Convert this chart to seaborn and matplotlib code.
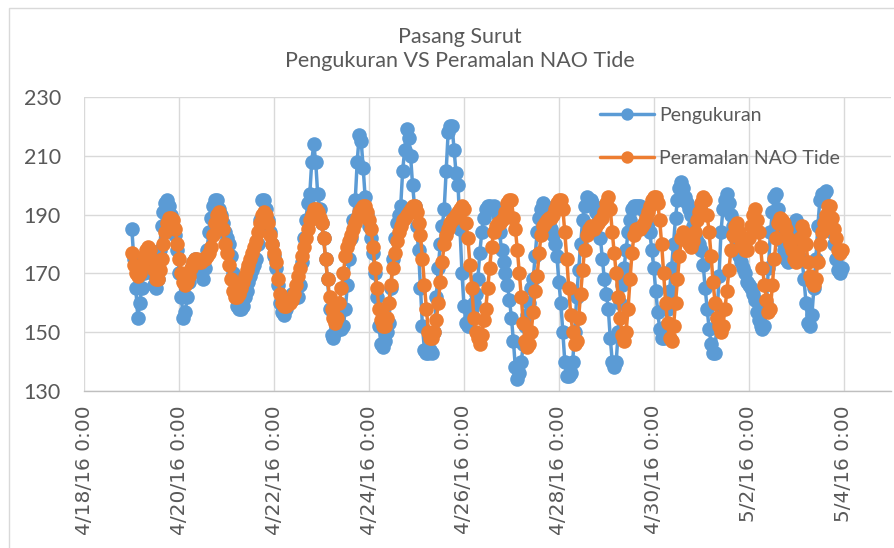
import matplotlib
matplotlib.use('Agg')
import matplotlib.pyplot as plt
from matplotlib.patches import Rectangle
import seaborn as sns
import pandas as pd

# Hourly water level, 4/19/16 0:00 .. 5/3/16 23:00 (one row = one day)
pengukuran = [
    185, 175, 165, 155, 160, 165, 170, 174, 176, 174, 170, 166, 165, 168, 178, 186, 191, 194, 195, 193, 190, 186, 183, 178,
    170, 162, 155, 157, 162, 167, 171, 174, 175, 174, 172, 170, 168, 172, 178, 184, 189, 193, 195, 195, 192, 190, 187, 184,
    182, 180, 176, 170, 163, 159, 158, 158, 159, 162, 164, 167, 169, 171, 173, 175, 180, 188, 195, 195, 192, 188, 184, 180,
    176, 172, 166, 160, 157, 156, 158, 160, 162, 163, 163, 162, 162, 166, 174, 182, 188, 194, 197, 208, 214, 208, 197, 192,
    187, 182, 175, 168, 158, 149, 148, 150, 152, 153, 151, 152, 158, 166, 175, 182, 188, 195, 208, 217, 215, 206, 196, 190,
    186, 182, 177, 170, 162, 152, 146, 145, 147, 150, 153, 165, 175, 182, 187, 190, 193, 205, 212, 219, 216, 210, 200, 193,
    186, 178, 165, 152, 144, 143, 143, 144, 143, 150, 162, 172, 180, 186, 192, 205, 218, 220, 220, 212, 204, 200, 185, 170,
    159, 153, 152, 155, 158, 160, 163, 168, 177, 184, 189, 192, 193, 193, 192, 193, 192, 190, 184, 178, 174, 170, 166, 161,
    155, 147, 138, 134, 136, 140, 146, 152, 156, 160, 165, 168, 176, 184, 189, 192, 194, 193, 190, 187, 185, 183, 180, 176,
    167, 160, 150, 140, 135, 135, 136, 140, 150, 162, 171, 180, 188, 193, 196, 195, 195, 194, 193, 191, 190, 182, 175, 168,
    163, 158, 148, 140, 138, 140, 150, 160, 166, 172, 178, 184, 188, 192, 193, 193, 193, 193, 192, 192, 190, 187, 184, 178,
    172, 164, 157, 151, 148, 148, 152, 158, 164, 172, 180, 189, 195, 199, 201, 199, 196, 194, 192, 190, 186, 183, 181, 180,
    178, 173, 165, 158, 151, 146, 143, 143, 155, 169, 184, 192, 195, 197, 194, 190, 186, 182, 179, 176, 174, 172, 170, 167,
    166, 165, 163, 161, 157, 154, 152, 151, 152, 160, 172, 184, 191, 196, 197, 192, 186, 181, 178, 175, 174, 176, 179, 184,
    188, 186, 182, 175, 168, 160, 153, 152, 156, 165, 175, 186, 195, 197, 197, 198, 193, 188, 184, 180, 175, 171, 170, 172,
]
peramalan = [
    177, 173, 170, 169, 170, 173, 176, 178, 179, 178, 175, 171, 168, 168, 171, 175, 180, 184, 187, 189, 189, 188, 185, 180,
    175, 170, 167, 166, 167, 169, 172, 174, 175, 175, 174, 174, 175, 175, 176, 177, 179, 183, 187, 190, 191, 189, 185, 180,
    177, 173, 168, 164, 162, 162, 163, 165, 167, 169, 171, 173, 175, 177, 179, 181, 184, 187, 190, 191, 190, 187, 183, 180,
    177, 174, 168, 163, 160, 159, 159, 160, 160, 161, 163, 166, 169, 172, 176, 179, 182, 185, 188, 190, 192, 192, 191, 189,
    187, 182, 175, 168, 162, 158, 155, 153, 155, 160, 165, 170, 176, 179, 181, 183, 185, 187, 189, 191, 192, 193, 193, 191,
    188, 185, 179, 172, 165, 158, 154, 152, 152, 155, 160, 166, 172, 177, 181, 184, 186, 188, 189, 190, 191, 192, 193, 193,
    191, 187, 183, 175, 166, 158, 150, 148, 148, 150, 154, 160, 167, 174, 180, 183, 185, 187, 188, 189, 190, 191, 192, 193,
    192, 187, 182, 173, 165, 155, 150, 148, 146, 149, 154, 158, 165, 172, 179, 184, 186, 187, 187, 188, 189, 191, 194, 195,
    195, 189, 185, 178, 170, 162, 153, 147, 145, 146, 150, 157, 164, 169, 177, 183, 186, 187, 188, 189, 189, 190, 192, 194,
    195, 195, 192, 184, 175, 165, 156, 150, 146, 147, 155, 163, 171, 178, 183, 185, 186, 185, 185, 186, 187, 188, 189, 191,
    194, 196, 192, 184, 177, 170, 162, 155, 149, 147, 150, 158, 168, 177, 183, 185, 185, 185, 186, 187, 189, 191, 193, 195,
    196, 196, 194, 188, 180, 170, 160, 153, 148, 147, 152, 160, 168, 176, 182, 184, 183, 181, 180, 179, 181, 184, 188, 191,
    194, 196, 195, 190, 184, 176, 167, 160, 155, 152, 150, 152, 158, 164, 171, 178, 183, 186, 187, 184, 181, 179, 178, 178,
    182, 186, 190, 192, 188, 184, 179, 172, 166, 161, 157, 158, 166, 175, 182, 187, 189, 188, 187, 185, 182, 180, 178, 175,
    174, 177, 182, 186, 184, 180, 174, 169, 167, 166, 168, 174, 180, 184, 187, 190, 193, 193, 189, 185, 182, 178, 177, 178,
]
start_time = '2016-04-19 00:00'
tick_dates = ['2016-04-18', '2016-04-20', '2016-04-22', '2016-04-24', '2016-04-26',
              '2016-04-28', '2016-04-30', '2016-05-02', '2016-05-04']
tick_labels = ['4/18/16 0:00', '4/20/16 0:00', '4/22/16 0:00', '4/24/16 0:00', '4/26/16 0:00',
               '4/28/16 0:00', '4/30/16 0:00', '5/2/16 0:00', '5/4/16 0:00']
y_ticks = [130, 150, 170, 190, 210, 230]

data = pd.DataFrame({
    'Waktu': pd.date_range(start_time, periods=len(pengukuran), freq='h'),
    'Pengukuran': pengukuran,
    'Peramalan NAO Tide': peramalan,
})

sns.set_style('white')
plt.rcParams['font.family'] = ['Lato', 'DejaVu Sans']
text_color = '#595959'
grid_color = '#d9d9d9'

W, H = 895, 548
fig = plt.figure(figsize=(W / 100, H / 100), dpi=100)
ax = fig.add_axes([84.4 / W, 1 - 391 / H, (891 - 84.4) / W, (391 - 97) / H])

sns.lineplot(data=data, x='Waktu', y='Pengukuran', color='#5B9BD5', label='Pengukuran',
             marker='o', markersize=10.5, markeredgewidth=0, linewidth=2.5, ax=ax)
sns.lineplot(data=data, x='Waktu', y='Peramalan NAO Tide', color='#ED7D31', label='Peramalan NAO Tide',
             marker='o', markersize=10.5, markeredgewidth=0, linewidth=2.5, ax=ax)

ax.set_xlim(pd.Timestamp('2016-04-18'), pd.Timestamp('2016-05-05'))
ax.set_ylim(130, 230)
ax.set_yticks(y_ticks)
ax.set_xticks(pd.to_datetime(tick_dates))
ax.set_xticklabels(tick_labels, rotation=90, family='DejaVu Sans', fontsize=14.5, color=text_color)
ax.tick_params(axis='y', labelsize=15.5, labelcolor=text_color, length=0, pad=17)
ax.tick_params(axis='x', length=0, pad=10)
ax.set_xlabel('')
ax.set_ylabel('')

ax.grid(True, color=grid_color, linewidth=1)
ax.set_axisbelow(True)
for side in ['top', 'right', 'left']:
    ax.spines[side].set_visible(False)
ax.spines['bottom'].set_color('#bfbfbf')
ax.spines['bottom'].set_linewidth(1)

handles, labels = ax.get_legend_handles_labels()
ax.legend(handles, labels, loc='upper left', bbox_to_anchor=(600 / W, 1 - 107 / H),
          bbox_transform=fig.transFigure, frameon=False, fontsize=14, labelcolor=text_color,
          handlelength=2.8, handletextpad=0.25, labelspacing=1.35, borderpad=0, borderaxespad=0,
          markerscale=0.85)

fig.text(460 / W, 1 - 49 / H, 'Pasang Surut\nPengukuran VS Peramalan NAO Tide',
         ha='center', va='center', fontsize=15.5, color=text_color, linespacing=1.25)

# chart area border (right and bottom edges fall outside the image)
fig.add_artist(Rectangle((9 / W, -0.05), 1.2, 1.05 - 8 / H, transform=fig.transFigure,
                         fill=False, edgecolor=grid_color, linewidth=1))

fig.savefig('out.png', dpi=100)
